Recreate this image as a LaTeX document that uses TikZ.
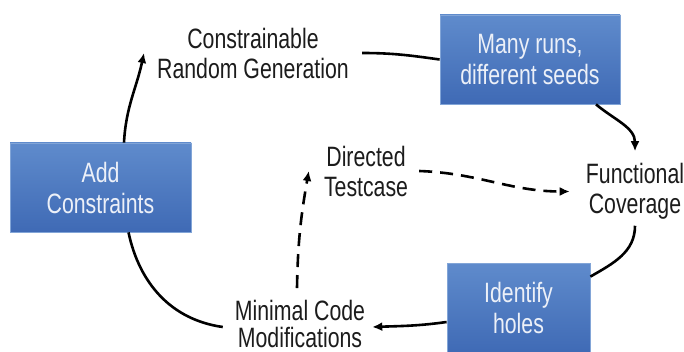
\documentclass[tikz,border=0pt]{standalone}
\usepackage{fontspec}
\setmainfont{Liberation Sans}[FakeStretch=0.76]
\usetikzlibrary{arrows.meta}
\definecolor{boxtop}{RGB}{95,139,204}
\definecolor{boxbot}{RGB}{63,106,181}
\definecolor{boxedge}{RGB}{130,165,215}
\definecolor{boxtext}{RGB}{236,240,248}
\definecolor{ink}{RGB}{28,28,28}
\tikzset{
  bluebox/.style={rectangle, top color=boxtop, bottom color=boxbot, draw=boxedge, line width=0.8pt,
    text=boxtext, align=center, inner sep=0pt, font=\fontsize{28}{31}\selectfont},
  plain/.style={align=center, inner sep=0pt, text=ink, font=\fontsize{28}{30}\selectfont},
  conn/.style={line width=2.6pt, draw=black},
  arr/.style={conn, -{Latex[length=10pt,width=9pt]}},
  darr/.style={arr, dash pattern=on 13pt off 8pt},
}
\begin{document}
\begin{tikzpicture}[x=1pt,y=1pt]
\useasboundingbox[fill=white] (0,0) rectangle (684,351);
% boxes
\node[bluebox, minimum width=180pt, minimum height=89pt] (many) at (530,291.5) {Many runs,\\different seeds};
\node[bluebox, minimum width=181pt, minimum height=89pt] (add) at (100.5,163.5) {Add\\Constraints};
\node[bluebox, minimum width=143pt, minimum height=90pt] (idh) at (518.5,43) {Identify\\holes};
% text nodes
\node[plain] (crg) at (253,298) {Constrainable\\Random Generation};
\node[plain] (fc) at (635,159.5) {Functional\\Coverage};
\node[plain] (dt) at (366,180) {Directed\\Testcase};
\node[plain, font=\fontsize{28}{27}\selectfont] (mcm) at (300,27) {Minimal Code\\Modifications};
% connectors
\draw[arr] ([xshift=23.5pt]add.north) to[out=87,in=-102] ([xshift=-13pt]crg.west);
\draw[conn] ([xshift=13pt]crg.east) to[out=0,in=172] (many.west);
\draw[arr] ([xshift=66pt]many.south) to[out=-40,in=90] ([yshift=12pt]fc.north);
\draw[conn] ([yshift=-6pt]fc.south) to[out=-90,in=30] ([yshift=-14pt]idh.north east);
\draw[arr] ([yshift=-14pt]idh.west) to[out=188,in=2] ([xshift=7pt,yshift=-3pt]mcm.east);
\draw[conn] ([xshift=-12pt,yshift=-3pt]mcm.west) to[out=172,in=-78] ([xshift=28pt]add.south);
\draw[darr] ([xshift=-3pt,yshift=12pt]mcm.north) to[out=89,in=-100] ([xshift=-15pt]dt.west);
\draw[darr] ([xshift=11pt]dt.east) to[out=-2,in=180] ([xshift=-16pt]fc.west);
\end{tikzpicture}
\end{document}
